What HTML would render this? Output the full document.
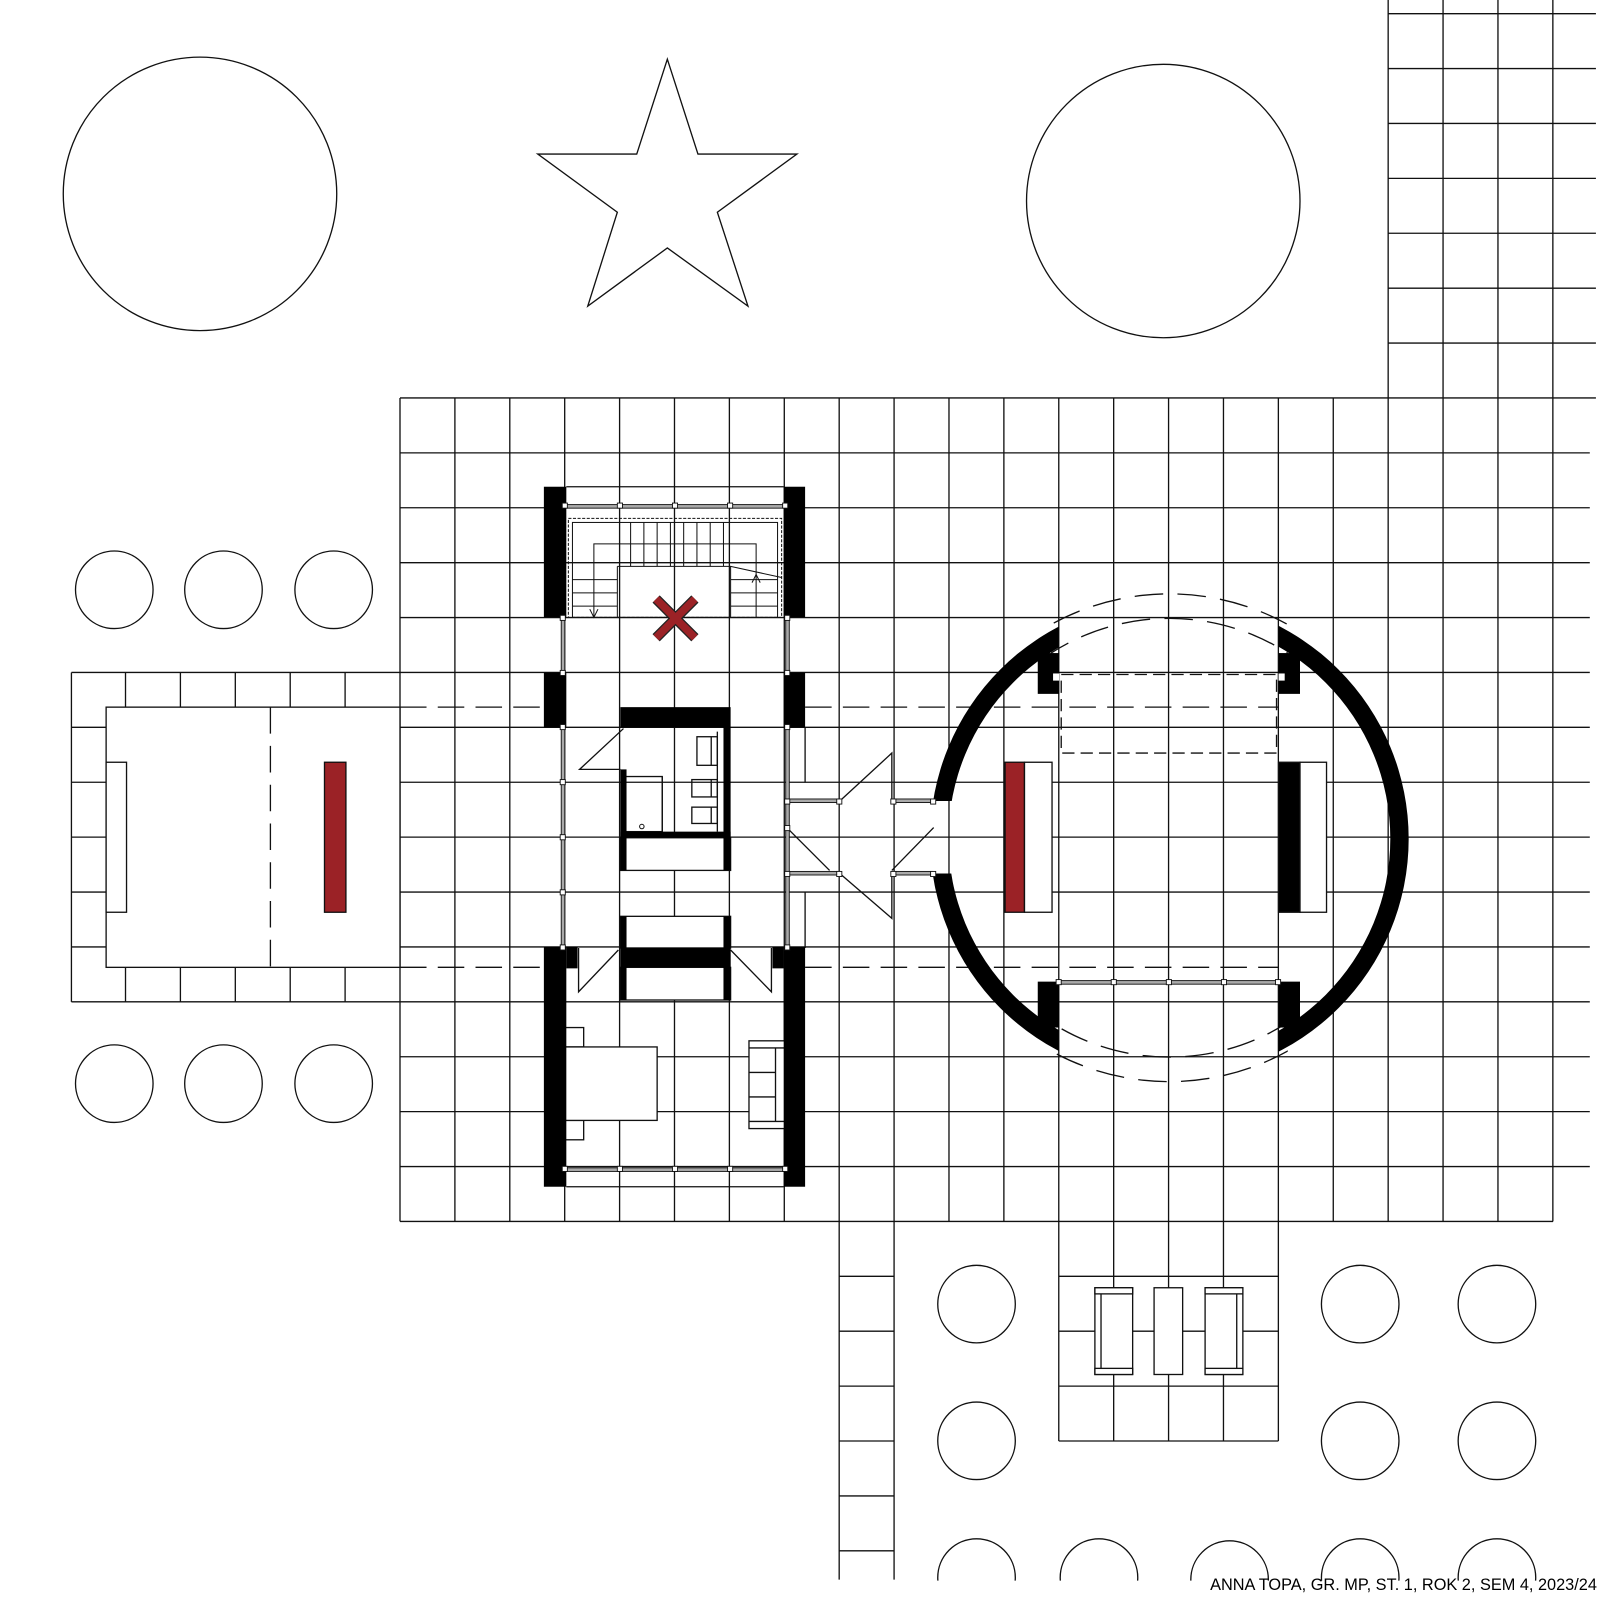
<!DOCTYPE html>
<html><head><meta charset="utf-8"><style>html,body{margin:0;padding:0;background:#fff}svg{display:block}</style></head>
<body>
<svg xmlns="http://www.w3.org/2000/svg" width="1600" height="1600" viewBox="0 0 1568 1568">
<defs>
<clipPath id="cb"><rect x="0" y="0" width="1568" height="1549"/></clipPath>
<clipPath id="ring"><path d="M0 0H1037.6V785H0Z M952 785H1037.6V856H952Z M0 856H1037.6V1568H0Z M1252.8 0H1568V1568H1252.8Z" /></clipPath>
<clipPath id="dc"><rect x="1030" y="0" width="232" height="1568"/></clipPath>
</defs>
<rect width="1568" height="1568" fill="#fff"/>
<g fill="none" stroke="#111" stroke-width="1.3">
<path d="M392 390V1197M445.8 390V1197M499.6 390V1197M553.4 390V1197M607.2 390V1197M661 390V1197M714.8 390V1197M768.6 390V1197M822.4 390V1197M876.2 390V1197M930 390V1197M983.8 390V1197M1037.6 390V1197M1091.4 390V1197M1145.2 390V1197M1199 390V1197M1252.8 390V1197M1306.6 390V1197M1360.4 0V1197M1414.2 0V1197M1468 0V1197M1521.8 0V1197"/>
<path d="M392 390H1564M392 443.8H1558M392 497.6H1558M392 551.4H1558M392 605.2H1558M392 659H1558M392 712.8H1558M392 766.6H1558M392 820.4H1558M392 874.2H1558M392 928H1558M392 981.8H1558M392 1035.6H1558M392 1089.4H1558M392 1143.2H1558M392 1197H1522"/>
<path d="M1360.4 13.4H1564M1360.4 67.2H1564M1360.4 121H1564M1360.4 174.8H1564M1360.4 228.6H1564M1360.4 282.4H1564M1360.4 336.2H1564"/>
<path d="M70 659H392M70 981.8H392M70 659V981.8M123 659V693M176.8 659V693M230.6 659V693M284.4 659V693M338.2 659V693M123 948V981.8M176.8 948V981.8M230.6 948V981.8M284.4 948V981.8M338.2 948V981.8M70 712.8H104M70 766.6H104M70 820.4H104M70 874.2H104M70 928H104"/>
<rect x="104" y="693" width="288" height="255" fill="#fff"/>
<path d="M265 693V948" stroke-dasharray="26 12"/>
<rect x="104" y="747" width="20" height="147" fill="#fff"/>
<rect x="318" y="747" width="21" height="147" fill="#9b2226"/>
<path d="M822.4 1197V1548M876.2 1197V1548M822.4 1250.8H876.2M822.4 1304.6H876.2M822.4 1358.4H876.2M822.4 1412.2H876.2M822.4 1466H876.2M822.4 1519.8H876.2"/>
<path d="M1037.6 1197V1412.2M1091.4 1197V1412.2M1145.2 1197V1412.2M1199 1197V1412.2M1252.8 1197V1412.2M1037.6 1250.8H1252.8M1037.6 1304.6H1252.8M1037.6 1358.4H1252.8M1037.6 1412.2H1252.8"/>
<g fill="#fff">
<rect x="1073" y="1262" width="37" height="85"/><rect x="1073" y="1262" width="37" height="6"/><rect x="1073" y="1341" width="37" height="6"/><path d="M1079 1268V1341"/>
<rect x="1131" y="1262" width="28" height="85"/>
<rect x="1181" y="1262" width="37" height="85"/><rect x="1181" y="1262" width="37" height="6"/><rect x="1181" y="1341" width="37" height="6"/><path d="M1212 1268V1341"/>
</g>
<circle cx="196" cy="190" r="134"/>
<circle cx="1140" cy="197" r="134"/>
<path d="M654 58L684 151L781 151L703 208L733 300L654 243L576 300L605 208L527 151L624 151Z"/>
<circle cx="112" cy="578" r="38"/><circle cx="219" cy="578" r="38"/><circle cx="327" cy="578" r="38"/>
<circle cx="112" cy="1062" r="38"/><circle cx="219" cy="1062" r="38"/><circle cx="327" cy="1062" r="38"/>
<circle cx="957" cy="1278" r="38"/><circle cx="957" cy="1412" r="38"/>
<circle cx="1333" cy="1278" r="38"/><circle cx="1467" cy="1278" r="38"/>
<circle cx="1333" cy="1412" r="38"/><circle cx="1467" cy="1412" r="38"/>
<g clip-path="url(#cb)">
<circle cx="957" cy="1546" r="38"/><circle cx="1077" cy="1546" r="38"/><circle cx="1205" cy="1548" r="38"/><circle cx="1333" cy="1546" r="38"/><circle cx="1467" cy="1546" r="38"/>
</g>
<path d="M392 693H534M789 693H1253M392 948H534M789 948H1253" stroke-dasharray="26 11"/>
<rect x="1040" y="661" width="211" height="77" stroke-dasharray="12 6"/>
<g clip-path="url(#dc)" stroke-dasharray="28 14">
<circle cx="1146" cy="821" r="239"/><circle cx="1146" cy="821" r="215"/>
</g>
<path d="M555 477H768M555 1163H768"/>
<g stroke-width="1">
<rect x="557" y="508" width="209" height="97" stroke-dasharray="3 1.5"/>
<rect x="561" y="512" width="201" height="93"/>
<path d="M618 512V555M631 512V555M644 512V555M657 512V555M670 512V555M683 512V555M696 512V555M709 512V555M605 555H716V605M605 555V605"/>
<path d="M561 568H605M561 581H605M561 594H605M716 568H762M716 581H762M716 594H762M716 555L766 566"/>
<path d="M582 605V533H741V605"/>
<path d="M578 597L582 605L586 597M737 571L741 563L745 571"/>
</g>
<path d="M643 587L681 625M681 587L643 625" stroke="#222" stroke-width="10" stroke-linecap="butt"/>
<path d="M643 587L681 625M681 587L643 625" stroke="#9b2226" stroke-width="7.5"/>
<path d="M611 714L568 754H608"/>
<rect x="613" y="761" width="36" height="54"/><path d="M649 761V815"/>
<circle cx="629" cy="810" r="2.2" stroke-width="1"/>
<rect x="683" y="722" width="20" height="28"/><rect x="678" y="764" width="25" height="17"/><rect x="678" y="791" width="25" height="16"/>
<path d="M703 717V815M697 722V750M697 764V781M697 791V807"/>
<rect x="608" y="821" width="108" height="32" fill="#fff"/>
<rect x="608" y="898" width="108" height="31" fill="#fff"/>
<rect x="608" y="948" width="108" height="32" fill="#fff"/>
<path d="M567 929V972L606 931M756 929V972L716 931"/>
<path d="M823 785L874 738V785M771 811L813 853M823 856L874 900V856M915 811L874 853M789 713V767M789 874V929"/>
<rect x="554" y="1007" width="18" height="19"/><rect x="554" y="1098" width="18" height="19"/>
<rect x="554" y="1026" width="90" height="72" fill="#fff"/>
<rect x="734" y="1020" width="35" height="86" fill="#fff"/>
<path d="M734 1027H769M734 1099H769M760 1027V1099M734 1051H760M734 1075H760"/>
<rect x="985" y="747" width="19" height="147" fill="#9b2226"/>
<rect x="1004" y="747" width="27" height="147" fill="#fff"/>
<rect x="1253" y="747" width="21" height="147" fill="#000"/>
<rect x="1274" y="747" width="26" height="147" fill="#fff"/>
</g>
<g fill="#000">
<rect x="533" y="477" width="22" height="128"/><rect x="533" y="659" width="22" height="54"/><rect x="533" y="928" width="22" height="235"/><rect x="555" y="928" width="11" height="21"/>
<rect x="768" y="477" width="21" height="128"/><rect x="768" y="659" width="21" height="54"/><rect x="768" y="928" width="21" height="235"/><rect x="757" y="928" width="11" height="21"/>
<rect x="608" y="693" width="108" height="20"/><rect x="709" y="713" width="7" height="140"/><rect x="608" y="754" width="6" height="99"/><rect x="608" y="815" width="108" height="6"/>
<rect x="608" y="898" width="6" height="82"/><rect x="709" y="898" width="7" height="82"/><rect x="608" y="929" width="108" height="19"/>
<path clip-path="url(#ring)" fill-rule="evenodd" d="M1146 822m-234.5 0a234.5 234.5 0 1 0 469 0a234.5 234.5 0 1 0 -469 0Z M1146 822m-216.5 0a216.5 216.5 0 1 0 433 0a216.5 216.5 0 1 0 -433 0Z"/>
<rect x="1017" y="640" width="21" height="40"/><rect x="1253" y="640" width="21" height="40"/>
<rect x="1017" y="962" width="21" height="45"/><rect x="1253" y="962" width="21" height="45"/>
</g>
<rect x="1032" y="660" width="6" height="7" fill="#fff"/><rect x="1253" y="660" width="6" height="7" fill="#fff"/>
<g fill="#aaa" stroke="#111" stroke-width="0.9">
<rect x="555" y="494.5" width="213" height="3.5"/><rect x="555" y="1144.5" width="213" height="3.5"/>
<rect x="550" y="605" width="3.5" height="54"/><rect x="550" y="713" width="3.5" height="215"/>
<rect x="770" y="605" width="3.5" height="54"/><rect x="770" y="713" width="3.5" height="215"/>
<rect x="771" y="783" width="52" height="3.5"/><rect x="771" y="854" width="52" height="3.5"/>
<rect x="876" y="783" width="38" height="3.5"/><rect x="876" y="854" width="38" height="3.5"/>
<rect x="1038" y="961" width="215" height="3.5"/>
</g>
<g fill="#fff" stroke="#111" stroke-width="0.9">
<rect x="551" y="493" width="5" height="5"/><rect x="605" y="493" width="5" height="5"/><rect x="659" y="493" width="5" height="5"/><rect x="713" y="493" width="5" height="5"/><rect x="767" y="493" width="5" height="5"/>
<rect x="551" y="1143" width="5" height="5"/><rect x="605" y="1143" width="5" height="5"/><rect x="659" y="1143" width="5" height="5"/><rect x="713" y="1143" width="5" height="5"/><rect x="767" y="1143" width="5" height="5"/>
<rect x="549" y="603" width="5" height="5"/><rect x="549" y="657" width="5" height="5"/><rect x="549" y="710" width="5" height="5"/><rect x="549" y="764" width="5" height="5"/><rect x="549" y="818" width="5" height="5"/><rect x="549" y="872" width="5" height="5"/><rect x="549" y="926" width="5" height="5"/>
<rect x="769" y="603" width="5" height="5"/><rect x="769" y="657" width="5" height="5"/><rect x="769" y="710" width="5" height="5"/><rect x="769" y="783" width="5" height="5"/><rect x="769" y="809" width="5" height="5"/><rect x="769" y="854" width="5" height="5"/><rect x="769" y="926" width="5" height="5"/>
<rect x="820" y="783" width="5" height="5"/><rect x="820" y="854" width="5" height="5"/><rect x="873" y="783" width="5" height="5"/><rect x="873" y="854" width="5" height="5"/><rect x="912" y="783" width="5" height="5"/><rect x="912" y="854" width="5" height="5"/>
<rect x="1035" y="960" width="5" height="5"/><rect x="1089" y="960" width="5" height="5"/><rect x="1143" y="960" width="5" height="5"/><rect x="1197" y="960" width="5" height="5"/><rect x="1250" y="960" width="5" height="5"/>
</g>
<text x="1565" y="1558" text-anchor="end" font-family="'Liberation Sans', sans-serif" font-size="16" fill="#000">ANNA TOPA, GR. MP, ST. 1, ROK 2, SEM 4, 2023/24</text>
</svg>
</body></html>
